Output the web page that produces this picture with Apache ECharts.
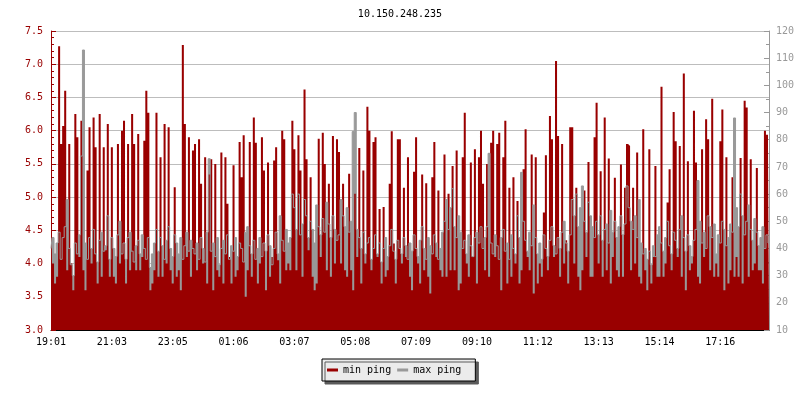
<!DOCTYPE html>
<html>
<head>
<meta charset="utf-8">
<script src="https://cdn.jsdelivr.net/npm/echarts/dist/echarts.min.js"></script>
<style>html,body{margin:0;padding:0;background:#fff}#c{width:800px;height:400px}</style>
</head>
<body>
<div id="c"></div>
<script>
const chartTitle = '10.150.248.235';
const tickLabels = ['19:01','21:03','23:05','01:06','03:07','05:08','07:09','09:10','11:12','13:13','15:14','17:16'];
const tickEvery = 30;

// min ping (left axis)
const minPing = [
5.3,4.0,3.7,3.8,7.27,5.8,6.07,6.6,3.9,5.8,4.0,3.6,6.25,5.9,4.1,6.15,3.9,3.6,5.4,6.05,4.0,6.2,5.75,3.7,6.25,3.8,5.75,4.2,6.1,3.8,5.75,3.8,3.7,5.8,4.0,6.0,6.15,3.7,5.8,3.9,6.25,5.8,3.9,5.95,3.9,4.1,5.85,6.6,6.27,3.6,3.7,3.9,6.27,3.8,5.6,3.8,6.1,4.0,6.05,3.9,3.7,5.15,3.8,3.9,3.6,7.29,6.1,4.1,5.9,3.8,5.7,
5.8,3.9,5.87,5.2,4.0,5.6,3.7,5.34,5.57,3.6,5.5,3.9,3.8,5.67,3.7,5.6,4.9,4.1,3.7,5.48,3.8,3.9,5.83,5.3,5.93,3.5,3.9,5.83,3.8,6.2,5.82,3.7,4.0,5.9,5.4,3.6,5.52,3.8,4.1,5.55,5.75,4.05,3.7,6.0,5.87,3.9,4.0,3.9,6.15,5.72,3.9,5.93,5.4,3.8,6.62,5.57,4.2,5.3,3.8,3.6,3.7,5.88,4.1,5.97,5.5,3.9,5.2,3.8,5.92,4.0,5.87,
5.68,4.0,5.2,3.9,3.8,5.35,3.9,3.6,5.05,4.1,5.74,3.7,5.4,4.0,6.36,6.0,3.9,5.83,5.9,4.1,4.82,3.7,4.85,3.8,3.9,5.2,5.99,4.3,3.7,5.87,5.87,4.0,5.14,4.1,5.6,3.8,3.6,5.38,5.9,4.0,3.7,5.34,3.9,5.21,3.8,3.55,5.3,5.83,4.1,5.1,3.9,3.8,5.64,3.8,5.05,3.9,5.47,3.9,5.7,3.6,3.7,5.6,6.27,4.0,3.8,5.52,4.1,5.72,3.7,5.6,6.0,
5.2,3.9,5.5,3.8,5.82,6.0,4.1,5.8,5.97,3.6,5.6,6.15,3.7,5.14,3.8,5.3,4.0,4.94,3.7,3.9,5.42,6.02,4.1,3.9,5.64,3.55,5.6,3.7,4.0,3.8,4.77,5.63,3.9,6.22,5.87,4.1,7.05,5.92,3.8,5.8,4.0,4.35,3.7,6.05,6.05,4.0,5.14,3.8,3.6,3.9,5.1,4.1,5.53,3.8,3.8,5.9,6.42,4.0,5.39,3.8,6.2,3.9,5.58,3.7,4.1,5.29,3.9,3.8,5.49,3.8,5.14,
5.8,5.77,3.9,5.14,4.0,5.67,3.8,3.7,6.02,3.9,3.6,5.72,3.7,4.1,5.47,3.8,3.8,6.66,3.8,4.0,4.92,5.42,3.9,6.28,5.84,4.1,5.77,3.8,6.86,3.6,5.54,3.9,4.0,6.3,5.52,3.8,3.7,5.72,4.1,6.17,5.87,3.9,6.48,3.8,4.0,3.8,5.84,6.32,3.6,5.6,3.7,3.9,5.3,3.8,4.1,3.8,5.59,3.7,6.45,6.35,3.8,5.57,3.9,4.0,5.44,3.9,3.9,3.7,6.0,5.94,5.82
];

// max ping (right axis)
const maxPing = [
40,44,38,42,46,36,44,48,58,40,34,30,42,38,45,74,113,42,36,44,40,47,38,35,43,46,39,41,52,36,44,40,37,45,50,38,42,36,44,46,39,35,41,43,38,45,40,36,44,33,38,42,47,39,44,41,36,43,48,40,37,45,42,38,44,36,41,46,39,43,40,
38,42,36,44,40,35,46,73,39,42,37,44,34,40,43,38,45,36,41,39,44,37,42,40,35,46,48,41,38,43,36,40,44,37,42,39,45,41,34,40,46,38,52,43,39,47,42,44,60,55,47,60,45,49,58,52,44,50,47,42,56,48,45,51,46,57,49,44,52,47,43,
45,58,52,48,55,46,50,83,90,47,44,40,46,38,42,44,36,40,45,38,42,35,40,44,37,41,47,39,36,43,40,38,44,41,36,42,39,45,40,37,43,48,40,36,44,41,38,45,42,36,40,46,50,58,47,55,62,48,44,52,46,40,43,38,45,41,37,44,46,42,48,
40,44,48,75,42,38,45,41,36,44,47,39,42,36,45,40,38,52,44,68,50,43,39,46,41,56,44,38,42,36,45,40,37,43,48,41,38,44,40,46,50,42,39,45,58,52,60,48,55,63,50,46,57,52,48,44,50,45,52,43,47,49,42,54,46,50,44,48,52,45,49,
63,55,50,47,52,44,58,42,38,40,36,39,34,41,37,45,48,42,39,44,50,41,38,46,43,40,47,52,44,39,45,41,37,43,47,65,50,42,46,40,52,48,44,49,38,45,42,50,47,41,44,49,46,88,55,48,60,52,45,50,56,47,43,51,46,41,44,48,40,45,42
];

const categories = minPing.map((_, i) => String(i));
const FONT = 'DejaVu Sans Mono';
const RED = '#990000', GRAY = '#999999';

const chart = echarts.init(document.getElementById('c'), null, {renderer: 'canvas'});
chart.setOption({
  animation: false,
  title: {
    text: chartTitle, left: 'center', top: 4,
    textStyle: {fontFamily: FONT, fontSize: 10, fontWeight: 'normal', color: '#000'}
  },
  legend: {
    data: ['min ping', 'max ping'],
    left: 322, top: 359,
    padding: [6, 14, 6, 5],
    itemGap: 6, itemWidth: 11, itemHeight: 3, icon: 'rect',
    backgroundColor: '#ebebeb', borderColor: '#000', borderWidth: 1,
    shadowColor: '#5a5a5a', shadowBlur: 0, shadowOffsetX: 3, shadowOffsetY: 3,
    textStyle: {fontFamily: FONT, fontSize: 10, color: '#000'}
  },
  grid: {left: 51, right: 31, top: 31, bottom: 70},
  xAxis: {
    type: 'category', data: categories, boundaryGap: false,
    axisLine: {lineStyle: {color: '#000', width: 1}},
    axisTick: {inside: true, length: 5, lineStyle: {color: '#000'}, interval: (i) => i % tickEvery === 0},
    axisLabel: {
      interval: (i) => i % tickEvery === 0,
      formatter: (v) => { const n = Number(v); return n % tickEvery === 0 ? (tickLabels[n / tickEvery] || '') : ''; },
      color: '#000', fontFamily: FONT, fontSize: 10, margin: 7
    },
    splitLine: {show: false}
  },
  yAxis: [{
    type: 'value', min: 3, max: 7.5, interval: 0.5, position: 'left',
    axisLine: {show: true, lineStyle: {color: RED, width: 1}},
    axisTick: {show: true, inside: true, length: 5, lineStyle: {color: RED}},
    minorTick: {show: true, splitNumber: 5, length: 3, lineStyle: {color: RED}},
    axisLabel: {color: RED, fontFamily: FONT, fontSize: 10, margin: 8, formatter: (v) => v.toFixed(1)},
    splitLine: {show: true, lineStyle: {color: '#bdbdbd', width: 1}}
  }, {
    type: 'value', min: 10, max: 120, interval: 10, position: 'right',
    axisLine: {show: true, lineStyle: {color: GRAY, width: 1}},
    axisTick: {show: true, inside: true, length: 5, lineStyle: {color: GRAY}},
    minorTick: {show: true, splitNumber: 2, length: 3, lineStyle: {color: GRAY}},
    axisLabel: {color: GRAY, fontFamily: FONT, fontSize: 10, margin: 7},
    splitLine: {show: false}
  }],
  series: [{
    name: 'max ping', type: 'line', yAxisIndex: 1, data: maxPing,
    step: 'middle', showSymbol: false, symbol: 'none', silent: true,
    color: GRAY, lineStyle: {width: 1, color: GRAY},
    areaStyle: {color: GRAY, opacity: 1}
  }, {
    name: 'min ping', type: 'line', yAxisIndex: 0, data: minPing,
    step: 'middle', showSymbol: false, symbol: 'none', silent: true,
    color: RED, lineStyle: {width: 0, color: RED},
    areaStyle: {color: RED, opacity: 1}
  }]
});
</script>
</body>
</html>
